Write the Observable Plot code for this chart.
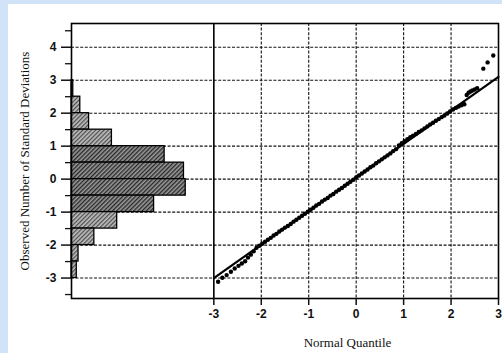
<!DOCTYPE html>
<html><head><meta charset="utf-8">
<script src="https://cdn.jsdelivr.net/npm/d3@7"></script>
<script src="https://cdn.jsdelivr.net/npm/@observablehq/plot@0.6"></script>
<style>
html,body{margin:0;padding:0;background:#d3e3f7;}
#wrap{position:relative;width:502px;height:353px;overflow:hidden;}
#paper{position:absolute;left:8px;top:4px;right:0;bottom:0;background:#fff;}
#chart{position:absolute;left:0;top:0;}
</style></head><body>
<div id="wrap"><div id="paper"></div><div id="chart"></div></div>
<script>
// Histogram of observed values (bins of 0.5 SD)
const binLow    = [2.5, 2, 1.5, 1, 0.5, 0, -0.5, -1, -1.5, -2, -2.5, -3];
const binCounts = [1, 5, 10, 23, 53, 64, 65, 47, 26, 13, 4, 3];

// Normal quantile plot points
const qqQuantile = [-2.91,-2.82,-2.73,-2.64,-2.56,-2.48,-2.41,-2.34,-2.28,-2.22,-2.16,
  -2.10,-2.04,-1.98,-1.92,-1.86,-1.80,-1.74,-1.68,-1.62,-1.56,-1.50,-1.44,-1.38,-1.32,-1.26,-1.20,-1.14,-1.08,-1.02,-0.96,
  -0.90,-0.84,-0.78,-0.72,-0.66,-0.60,-0.54,-0.48,-0.42,-0.36,-0.30,-0.24,-0.18,-0.12,-0.06,0.00,0.06,0.12,0.18,0.24,
  0.30,0.36,0.42,0.48,0.54,0.60,0.66,0.72,0.78,0.84,0.90,0.96,1.02,1.08,1.14,1.20,1.26,1.32,1.38,1.44,
  1.50,1.56,1.62,1.68,1.74,1.80,1.86,1.92,1.98,2.04,2.10,2.16,2.22,2.28,
  2.33,2.37,2.41,2.45,2.50,2.55,2.68,2.77,2.89];
const qqValue = [-3.11,-2.99,-2.91,-2.81,-2.71,-2.63,-2.56,-2.49,-2.38,-2.29,-2.19,
  -2.08,-2.02,-1.96,-1.90,-1.84,-1.78,-1.71,-1.66,-1.59,-1.53,-1.47,-1.42,-1.36,-1.29,-1.23,-1.17,-1.11,-1.05,-0.99,-0.93,
  -0.87,-0.80,-0.75,-0.68,-0.62,-0.57,-0.50,-0.45,-0.38,-0.32,-0.27,-0.20,-0.14,-0.08,-0.02,0.05,0.11,0.17,0.23,0.29,
  0.36,0.41,0.48,0.54,0.60,0.66,0.72,0.78,0.85,0.91,1.02,1.09,1.15,1.21,1.27,1.32,1.37,1.43,1.48,1.54,
  1.60,1.66,1.71,1.77,1.82,1.88,1.93,1.99,2.05,2.11,2.16,2.20,2.24,2.27,
  2.55,2.62,2.66,2.69,2.72,2.76,3.35,3.54,3.75];

// Reference (fitted) line
const refIntercept = 0.05;
const refSlope = 1.017;
const refRange = [-3, 3];

const yTickValues = [-3, -2, -1, 0, 1, 2, 3, 4];
const yMinorTicks = [-3.5, -2.5, -1.5, -0.5, 0.5, 1.5, 2.5, 3.5, 4.5];
const xTickValues = [-3, -2, -1, 0, 1, 2, 3];
const xGridValues = [-2, -1, 0, 1, 2];
const yLabel = "Observed Number of Standard Deviations";
const xLabel = "Normal Quantile";

const xDomain = [-6, 3];
const yDomain = [-3.62, 4.72];
const histMaxCount = 81; // count that spans the histogram panel (-6 .. -3)
const histPanel = [-6, -3];

const bins = binLow.map((lo, i) => ({lo, hi: lo + 0.5, count: binCounts[i]}));
const qq = qqQuantile.map((q, i) => ({q, v: qqValue[i]}));
const refLine = refRange.map(q => ({q, v: refIntercept + refSlope * q}));
const histX2 = d => histPanel[0] + d.count / histMaxCount * (histPanel[1] - histPanel[0]);

const serif = "'Liberation Serif', 'Times New Roman', serif";

const plot = Plot.plot({
  width: 502, height: 353,
  marginLeft: 71, marginRight: 4, marginTop: 23, marginBottom: 55,
  style: {background: "transparent", fontFamily: "'Liberation Sans', Arial, sans-serif", fontSize: "12px", color: "#111"},
  x: {domain: xDomain},
  y: {domain: yDomain},
  marks: [
    Plot.ruleY(yTickValues, {x1: () => xDomain[0], x2: () => xDomain[1], stroke: "#111", strokeWidth: 1.1, strokeDasharray: "3,1.6"}),
    Plot.ruleX(xGridValues, {stroke: "#111", strokeWidth: 1.1, strokeDasharray: "3,1.6"}),
    Plot.rect(bins, {filter: d => d.count >= 40, x1: () => histPanel[0], x2: histX2, y1: "lo", y2: "hi", fill: "url(#hatchDark)", stroke: "#000", strokeWidth: 1.3}),
    Plot.rect(bins, {filter: d => d.count < 40, x1: () => histPanel[0], x2: histX2, y1: "lo", y2: "hi", fill: "url(#hatchLight)", stroke: "#000", strokeWidth: 1.3}),
    Plot.ruleX([histPanel[1]], {stroke: "#000", strokeWidth: 1.6}),
    Plot.line(refLine, {x: "q", y: "v", stroke: "#000", strokeWidth: 2.2}),
    Plot.dot(qq, {x: "q", y: "v", r: 2.2, fill: "#000"}),
    Plot.frame({stroke: "#000", strokeWidth: 1.6}),
    Plot.axisY(yTickValues, {tickSize: 10, tickPadding: 5, strokeWidth: 1.5, tickFormat: d => `${d}`, fontWeight: "bold", label: null}),
    Plot.axisY(yMinorTicks, {tickSize: 6, strokeWidth: 1.3, tickFormat: () => "", label: null}),
    Plot.axisX(xTickValues, {tickSize: 7, tickPadding: 4, strokeWidth: 1.5, tickFormat: d => `${d}`, fontWeight: "bold", label: null}),
    Plot.text([yLabel], {frameAnchor: "left", textAnchor: "middle", rotate: -90, dx: -43, lineAnchor: "bottom", fontFamily: serif, fontSize: 13, fill: "#111"}),
    Plot.text([xLabel], {frameAnchor: "bottom", textAnchor: "middle", dx: 62.5, dy: 48, lineAnchor: "bottom", fontFamily: serif, fontSize: 13, fill: "#111"})
  ]
});

const svg = d3.select(plot);
const defs = svg.insert("defs", ":first-child");
const pd = defs.append("pattern").attr("id", "hatchDark").attr("width", 3).attr("height", 3)
  .attr("patternUnits", "userSpaceOnUse").attr("patternTransform", "rotate(45)");
pd.append("rect").attr("width", 3).attr("height", 3).attr("fill", "#999");
pd.append("line").attr("x1", 0.7).attr("y1", 0).attr("x2", 0.7).attr("y2", 3).attr("stroke", "#1a1a1a").attr("stroke-width", 1.2);
const pl = defs.append("pattern").attr("id", "hatchLight").attr("width", 3).attr("height", 3)
  .attr("patternUnits", "userSpaceOnUse").attr("patternTransform", "rotate(45)");
pl.append("rect").attr("width", 3).attr("height", 3).attr("fill", "#bdbdbd");
pl.append("line").attr("x1", 0.7).attr("y1", 0).attr("x2", 0.7).attr("y2", 3).attr("stroke", "#333").attr("stroke-width", 1);

document.getElementById("chart").appendChild(plot);
</script>
</body></html>
